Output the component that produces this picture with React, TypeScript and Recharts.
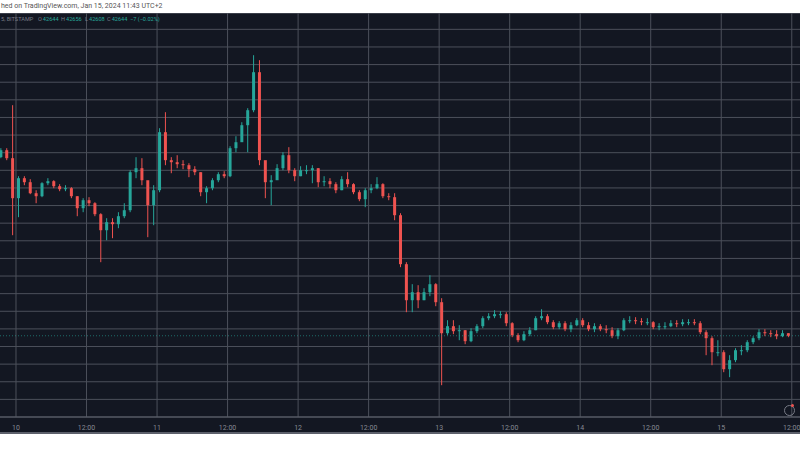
import { ComposedChart, Bar, XAxis, YAxis, CartesianGrid, ReferenceLine } from "recharts";

// hourly candles, first one starts Jan 9 21:00 (hour -3 from Jan 10 00:00, UTC+2)
const firstHour = -3;
const firstOpen = 46700;

const closes = [
  46856, 46675, 45767, 46221, 46130, 45880, 45812, 46107, 46153, 46039,
  45971, 45994, 45812, 45540, 45721, 45653, 45404, 45040, 45222, 45177,
  45358, 45494, 46357, 46448, 46175, 45608, 45948, 47265, 46630, 46584,
  46539, 46516, 46425, 46357, 45903, 45994, 46175, 46312, 46266, 46902,
  47038, 47424, 47764, 48627, 46630, 46130, 46175, 46448, 46743, 46402,
  46266, 46402, 46402, 46448, 46130, 46153, 46085, 45948, 46198, 46085,
  45903, 45744, 45948, 45994, 46085, 45812, 45790, 45381, 44269, 43451,
  43633, 43451, 43633, 43815, 43406, 42702, 42861, 42748, 42770, 42521,
  42748, 42861, 43043, 43088, 43134, 43134, 42929, 42657, 42543, 42680,
  42770, 43043, 43088, 42952, 42839, 42929, 42793, 42884, 42997, 42884,
  42793, 42861, 42793, 42770, 42634, 42770, 42997, 42997, 42975, 42952,
  42952, 42839, 42861, 42861, 42929, 42907, 42952, 42952, 42929, 42725,
  42589, 42271, 42271, 41885, 42090, 42316, 42316, 42498, 42589, 42725,
  42702, 42680, 42634, 42702, 42644,
];

const highs = [
  46902, 46902, 47878, 46266, 46266, 46198, 45948, 46130, 46221, 46175,
  46085, 46062, 46017, 45812, 45767, 45790, 45676, 45426, 45313, 45313,
  45449, 45653, 46402, 46698, 46675, 45948, 46062, 47356, 47719, 46698,
  46743, 46630, 46561, 46493, 46357, 46039, 46221, 46357, 46380, 46947,
  47174, 47492, 47810, 49013, 48900, 46584, 46289, 46539, 46811, 46925,
  46448, 46493, 46516, 46516, 46448, 46266, 46221, 46130, 46266, 46357,
  46107, 45948, 45994, 46085, 46244, 46107, 45880, 45880, 45426, 44314,
  43815, 43792, 43724, 44019, 43838, 43497, 42997, 42997, 42884, 42770,
  42816, 42907, 43088, 43156, 43224, 43202, 43179, 42952, 42702, 42748,
  42839, 43088, 43247, 43134, 42997, 42975, 42975, 42952, 43043, 43043,
  42952, 42929, 42907, 42884, 42839, 42816, 43043, 43088, 43066, 43043,
  43043, 42975, 42929, 42952, 42997, 42997, 43020, 43020, 43020, 42975,
  42770, 42634, 42543, 42316, 42203, 42362, 42430, 42543, 42634, 42793,
  42793, 42770, 42770, 42770, 42702,
];

const lows = [
  46675, 46630, 44927, 45336, 46062, 45858, 45653, 45790, 46062, 45994,
  45926, 45926, 45767, 45358, 45449, 45585, 45358, 44314, 44813, 44859,
  45086, 45313, 45449, 46221, 46062, 44882, 45154, 45903, 46516, 46334,
  46448, 46425, 46244, 46289, 45812, 45653, 45948, 46130, 46221, 46244,
  46811, 47083, 46811, 47719, 46516, 45767, 45608, 46289, 46402, 46334,
  46153, 46266, 46312, 46107, 46017, 46039, 45994, 45880, 45948, 46017,
  45858, 45699, 45563, 45880, 45971, 45767, 45721, 45267, 44201, 43179,
  43179, 43270, 43451, 43542, 43315, 41522, 42657, 42680, 42543, 42453,
  42498, 42702, 42816, 42997, 43043, 43043, 42861, 42612, 42498, 42521,
  42634, 42770, 42997, 42907, 42793, 42793, 42748, 42725, 42861, 42839,
  42748, 42725, 42748, 42702, 42589, 42566, 42748, 42929, 42907, 42884,
  42884, 42793, 42770, 42793, 42839, 42839, 42861, 42884, 42884, 42680,
  42203, 41976, 42180, 41817, 41704, 42044, 42203, 42271, 42453, 42543,
  42634, 42612, 42566, 42612, 42612,
];

const priceTicks = [
  40800, 41200, 41600, 42000, 42400, 42800, 43200, 43600, 44000, 44400, 44800, 45200,
  45600, 46000, 46400, 46800, 47200, 47600, 48000, 48400, 48800, 49200, 49600,
];
const timeTicks = [0, 12, 24, 36, 48, 60, 72, 84, 96, 108, 120, 132];
const timeLabels = ["10", "12:00", "11", "12:00", "12", "12:00", "13", "12:00", "14", "12:00", "15", "12:00"];
const lastPrice = 42644;
const legendItems = [
  { label: "O", value: "42644", x: 38 },
  { label: "H", value: "42656", x: 61 },
  { label: "L", value: "42608", x: 85 },
  { label: "C", value: "42644", x: 107 },
];
const changeText = "−7 (−0.02%)";

const UP = "#26a69a";
const DOWN = "#ef5350";
const BG = "#131722";
const GRID = "#4c505b";

const candles = closes.map((close, i) => ({
  t: firstHour + i + 0.5,
  open: i === 0 ? firstOpen : closes[i - 1],
  close,
  high: highs[i],
  low: lows[i],
}));

function Candle(props: any) {
  const { x, y, width, height, payload } = props;
  if (!payload) return null;
  const { open, close, high, low } = payload;
  const top = Math.min(y, y + height);
  const bottom = Math.max(y, y + height);
  const ratio = high === low ? 0 : (bottom - top) / (high - low);
  const py = (p: number) => bottom - (p - low) * ratio;
  const color = close >= open ? UP : DOWN;
  const cx = x + width / 2;
  const bodyTop = py(Math.max(open, close));
  const bodyH = Math.max(1, py(Math.min(open, close)) - bodyTop);
  return (
    <g>
      <line x1={cx} x2={cx} y1={top} y2={bottom} stroke={color} strokeWidth={1} />
      <rect x={cx - 1.5} y={bodyTop} width={3} height={bodyH} fill={color} />
    </g>
  );
}

const font = "Roboto, 'Liberation Sans', sans-serif";

export default function App() {
  return (
    <div style={{ position: "fixed", left: 0, top: 0, width: 800, height: 450, background: "#fff", overflow: "hidden", fontFamily: font }}>
      <div style={{ position: "absolute", left: 1, top: 2, fontSize: 7, color: "#555", whiteSpace: "nowrap" }}>
        hed on TradingView.com, Jan 15, 2024 11:43 UTC+2
      </div>
      <div style={{ position: "absolute", left: 0, top: 13, width: 800, height: 418, background: BG, borderTop: "1px solid #3a3e49", borderBottom: "2px solid #5d606b" }} />
      <div style={{ position: "absolute", left: 0, top: 0 }}>
        <ComposedChart width={800} height={432} data={candles} margin={{ top: 13, right: 0, bottom: 0, left: 0 }}>
          <CartesianGrid stroke={GRID} horizontalValues={priceTicks} verticalValues={timeTicks} />
          <XAxis
            dataKey="t"
            type="number"
            domain={[-2.722, 133.4]}
            allowDataOverflow
            ticks={timeTicks}
            interval={0}
            tickFormatter={(v: number) => timeLabels[timeTicks.indexOf(v)]}
            axisLine={{ stroke: "#5d606b" }}
            tickLine={false}
            height={15}
            tick={{ fill: "#868993", fontSize: 7, fontFamily: font }}
            tickMargin={2}
          />
          <YAxis hide type="number" domain={[40800, 49971]} allowDataOverflow ticks={priceTicks} interval={0} />
          <ReferenceLine y={lastPrice} stroke={UP} strokeOpacity={0.6} strokeDasharray="1 2" />
          <Bar dataKey={(d: any) => [d.low, d.high]} barSize={3} shape={<Candle />} isAnimationActive={false} />
        </ComposedChart>
      </div>
      <div style={{ position: "absolute", left: 0, top: 15.5, width: 200, height: 9, fontSize: 5.6, color: "#787b86", whiteSpace: "nowrap" }}>
        <span style={{ position: "absolute", left: 1 }}>5, BITSTAMP</span>
        {legendItems.map((it) => (
          <span key={it.label} style={{ position: "absolute", left: it.x }}>
            {it.label}
            <span style={{ color: UP, marginLeft: 1 }}>{it.value}</span>
          </span>
        ))}
        <span style={{ position: "absolute", left: 130, color: UP }}>{changeText}</span>
      </div>
      <div style={{ position: "absolute", left: 784, top: 405, width: 9, height: 9, border: "1px solid #787b86", borderRadius: "50%" }} />
      <div style={{ position: "absolute", left: 791, top: 404, width: 3, height: 3, background: DOWN, borderRadius: "50%" }} />
    </div>
  );
}
